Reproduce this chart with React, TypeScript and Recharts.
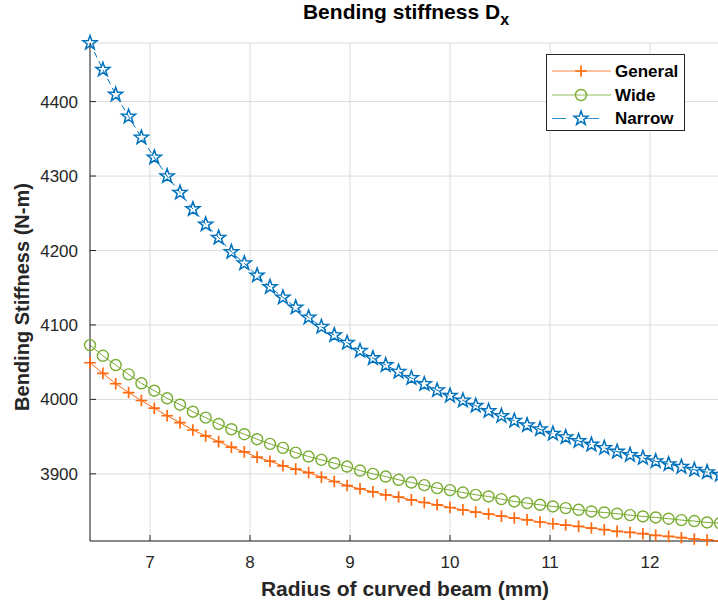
import { CartesianGrid, Line, LineChart, XAxis, YAxis } from 'recharts'

// radius of the curved beam (mm), 50 samples
const radius = [
  6.4, 6.529, 6.657, 6.786, 6.914, 7.043, 7.171, 7.3, 7.429, 7.557,
  7.686, 7.814, 7.943, 8.071, 8.2, 8.329, 8.457, 8.586, 8.714, 8.843,
  8.971, 9.1, 9.229, 9.357, 9.486, 9.614, 9.743, 9.871, 10.0, 10.129,
  10.257, 10.386, 10.514, 10.643, 10.771, 10.9, 11.029, 11.157, 11.286, 11.414,
  11.543, 11.671, 11.8, 11.929, 12.057, 12.186, 12.314, 12.443, 12.571, 12.7,
]
const general = [
  4049.2, 4035.0, 4021.0, 4009.2, 3998.5, 3988.2, 3978.0, 3968.8, 3958.9, 3950.9,
  3943.3, 3935.8, 3929.5, 3922.4, 3917.0, 3910.8, 3906.3, 3901.7, 3895.6, 3889.7,
  3884.3, 3879.9, 3875.9, 3871.8, 3868.8, 3865.1, 3861.5, 3858.4, 3854.8, 3851.7,
  3848.7, 3846.0, 3843.2, 3840.6, 3838.3, 3835.3, 3833.0, 3831.2, 3829.4, 3827.2,
  3825.0, 3822.7, 3821.3, 3819.6, 3817.3, 3816.0, 3814.2, 3812.5, 3811.2, 3809.8,
]
const wide = [
  4072.9, 4058.6, 4046.1, 4033.6, 4021.6, 4011.7, 4001.5, 3992.9, 3983.5, 3975.5,
  3967.0, 3959.9, 3953.2, 3946.5, 3940.2, 3934.9, 3928.5, 3923.2, 3918.8, 3914.3,
  3909.8, 3904.4, 3900.0, 3896.4, 3892.0, 3888.3, 3884.8, 3880.8, 3878.2, 3874.9,
  3871.8, 3869.6, 3866.1, 3862.9, 3860.7, 3858.4, 3856.2, 3854.0, 3851.7, 3849.5,
  3848.1, 3846.4, 3844.6, 3842.8, 3841.4, 3839.7, 3837.9, 3836.6, 3834.7, 3833.9,
]
const narrow = [
  4478.7, 4442.9, 4409.4, 4379.9, 4351.7, 4324.9, 4299.9, 4277.6, 4255.6, 4235.1,
  4217.3, 4198.0, 4182.8, 4166.5, 4151.0, 4137.0, 4123.5, 4110.0, 4097.5, 4086.3,
  4076.0, 4065.3, 4055.5, 4046.1, 4037.1, 4028.7, 4020.6, 4012.2, 4005.0, 3998.5,
  3991.5, 3984.5, 3977.8, 3971.4, 3965.3, 3959.9, 3954.0, 3949.2, 3944.2, 3939.3,
  3934.9, 3929.9, 3925.5, 3921.4, 3917.0, 3913.0, 3909.4, 3905.4, 3902.3, 3898.7,
]
const xTicks = [7, 8, 9, 10, 11, 12]
const yTicks = [3900, 4000, 4100, 4200, 4300, 4400]

const data = radius.map((r, i) => ({ r, general: general[i], wide: wide[i], narrow: narrow[i] }))

const ORANGE = '#ff6a10'
const GREEN = '#77ac30'
const BLUE = '#0072bd'
const INK = '#262626'
const font = '"Liberation Sans", Arial, Helvetica, sans-serif'

function starPath(cx: number, cy: number, R = 7.4, r = 3) {
  let d = ''
  for (let k = 0; k < 10; k++) {
    const a = -Math.PI / 2 + (k * Math.PI) / 5
    const rad = k % 2 ? r : R
    d += (k ? 'L' : 'M') + (cx + rad * Math.cos(a)).toFixed(2) + ',' + (cy + rad * Math.sin(a)).toFixed(2)
  }
  return d + 'Z'
}

const plus = (cx: number, cy: number, key?: string) => <path key={key} d={`M${cx - 5.8},${cy}H${cx + 5.8}M${cx},${cy - 5.8}V${cy + 5.8}`} stroke={ORANGE} strokeWidth={1.7} fill="none" />
const ring = (cx: number, cy: number, key?: string) => <circle key={key} cx={cx} cy={cy} r={5.5} stroke={GREEN} strokeWidth={1.4} fill="none" />
const star = (cx: number, cy: number, key?: string) => <path key={key} d={starPath(cx, cy)} stroke={BLUE} strokeWidth={1.5} fill="none" />

function Legend() {
  const rows = [
    { name: 'General', y: 16, color: ORANGE, mark: plus, dash: undefined },
    { name: 'Wide', y: 40, color: GREEN, mark: ring, dash: undefined },
    { name: 'Narrow', y: 63.5, color: BLUE, mark: star, dash: '14 19' },
  ]
  return <svg width={139} height={77} style={{ position: 'absolute', left: 546, top: 54, background: '#fff', border: `1px solid ${INK}`, boxSizing: 'border-box' }}>
    {rows.map(row => <g key={row.name}>
      <line x1={5} x2={64} y1={row.y} y2={row.y} stroke={row.color} strokeWidth={1} strokeDasharray={row.dash} opacity={0.8} />
      {row.mark(34, row.y)}
      <text x={68} y={row.y} dominantBaseline="central" fontFamily={font} fontWeight="bold" fontSize={17} fill="#000">{row.name}</text>
    </g>)}
  </svg>
}

export default function App() {
  const tick = { fill: INK, fontSize: 17, fontFamily: font }
  return <div style={{ position: 'absolute', left: 0, top: 0, width: 718, height: 606, overflow: 'hidden', background: '#fff', fontFamily: font }}>
    <div style={{ position: 'absolute', left: 406, top: 2, transform: 'translateX(-50%)', whiteSpace: 'nowrap', fontSize: 21, fontWeight: 'bold', lineHeight: '20px', color: '#000' }}>
      Bending stiffness D<sub style={{ fontSize: 16, verticalAlign: '-6px' }}>x</sub>
    </div>
    <LineChart width={720} height={606} data={data} margin={{ top: 43, right: 0, bottom: 0, left: 0 }}>
      <CartesianGrid stroke="#dcdcdc" strokeWidth={1} />
      <XAxis dataKey="r" type="number" domain={[6.4, 12.7]} ticks={xTicks} height={65} stroke={INK} tickSize={-6} tickMargin={21} tick={tick}
        label={{ value: 'Radius of curved beam (mm)', position: 'insideBottom', offset: 10, fill: INK, fontSize: 21, fontWeight: 'bold', fontFamily: font }} />
      <XAxis xAxisId="top" orientation="top" type="number" domain={[6.4, 12.7]} ticks={xTicks} height={0} mirror tick={false} tickSize={6} stroke={INK} />
      <YAxis type="number" domain={[3809.8, 4478.7]} ticks={yTicks} width={90} stroke={INK} tickSize={-6} tickMargin={18} tick={tick}
        label={{ value: 'Bending Stiffness (N-m)', angle: -90, position: 'insideLeft', offset: 22, dy: 5, fill: INK, fontSize: 20, fontWeight: 'bold', fontFamily: font, style: { textAnchor: 'middle' } }} />
      <YAxis yAxisId="right" orientation="right" type="number" domain={[3809.8, 4478.7]} ticks={yTicks} width={0} mirror tick={false} tickSize={6} stroke={INK} />
      <Line dataKey="general" stroke={ORANGE} strokeWidth={1} isAnimationActive={false}
        dot={(p: any) => plus(p.cx, p.cy, `g${p.index}`)} activeDot={false} />
      <Line dataKey="wide" stroke={GREEN} strokeWidth={1} isAnimationActive={false}
        dot={(p: any) => ring(p.cx, p.cy, `w${p.index}`)} activeDot={false} />
      <Line dataKey="narrow" stroke={BLUE} strokeWidth={1} strokeDasharray="6 4" isAnimationActive={false}
        dot={(p: any) => star(p.cx, p.cy, `n${p.index}`)} activeDot={false} />
    </LineChart>
    <Legend />
  </div>
}
